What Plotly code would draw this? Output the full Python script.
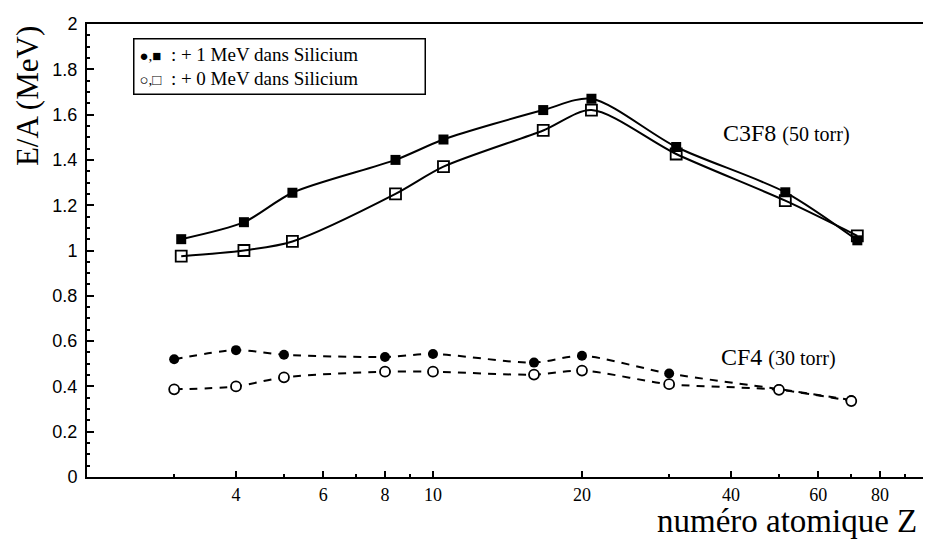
import plotly.graph_objects as go

## data ##
# CF4 (30 torr) - circles
z_cf4 = [3, 4, 5, 8, 10, 16, 20, 30, 50, 70]
cf4_plus1 = [0.52, 0.56, 0.54, 0.53, 0.543, 0.505, 0.535, 0.457, 0.388, 0.34]
cf4_plus0 = [0.387, 0.40, 0.44, 0.465, 0.465, 0.452, 0.47, 0.41, 0.385, 0.335]

# C3F8 (50 torr) - squares
z_c3f8 = [3.1, 4.15, 5.2, 8.4, 10.5, 16.7, 20.9, 31, 51.5, 72]
c3f8_plus1 = [1.05, 1.125, 1.255, 1.40, 1.49, 1.62, 1.67, 1.457, 1.257, 1.045]
c3f8_plus0 = [0.975, 1.0, 1.04, 1.25, 1.37, 1.53, 1.62, 1.426, 1.22, 1.065]

x_tickvals = [4, 6, 8, 10, 20, 40, 60, 80]
x_minor = [3, 5, 7, 9, 30, 50, 70, 90]
y_tickvals = [0, 0.2, 0.4, 0.6, 0.8, 1, 1.2, 1.4, 1.6, 1.8, 2]
y_ticktext = ["0", "0.2", "0.4", "0.6", "0.8", "1", "1.2", "1.4", "1.6", "1.8", "2"]

serif = "Liberation Serif"

fig = go.Figure()

# C3F8 curves
fig.add_trace(go.Scatter(
    x=z_c3f8, y=c3f8_plus1, mode="lines+markers",
    line=dict(color="black", width=2, shape="spline", smoothing=0.8),
    marker=dict(symbol="square", size=10, color="black"),
))
fig.add_trace(go.Scatter(
    x=z_c3f8, y=c3f8_plus0, mode="lines+markers",
    line=dict(color="black", width=2, shape="spline", smoothing=0.8),
    marker=dict(symbol="square-open", size=11, color="black", line=dict(width=1.8)),
))
# CF4 curves
fig.add_trace(go.Scatter(
    x=z_cf4, y=cf4_plus1, mode="lines+markers",
    line=dict(color="black", width=2, dash="8px,7px", shape="spline", smoothing=0.8),
    marker=dict(symbol="circle", size=10, color="black"),
))
fig.add_trace(go.Scatter(
    x=z_cf4, y=cf4_plus0, mode="lines+markers",
    line=dict(color="black", width=2, dash="8px,7px", shape="spline", smoothing=0.8),
    marker=dict(symbol="circle", size=10, color="white", line=dict(width=1.8, color="black")),
))

# page body keeps an 8px margin, so the figure is 8px smaller each way
fig.update_layout(
    width=923,
    height=538,
    margin=dict(l=79, r=6, t=9, b=69),
    paper_bgcolor="white",
    plot_bgcolor="white",
    showlegend=False,
    xaxis=dict(
        type="log",
        range=[0.301, 1.99],
        showgrid=False,
        zeroline=False,
        showline=True,
        linecolor="black",
        linewidth=2,
        mirror=True,
        ticks="inside",
        ticklen=6,
        tickwidth=1.5,
        tickcolor="black",
        tickvals=x_tickvals,
        ticktext=[str(v) for v in x_tickvals],
        tickfont=dict(family=serif, size=18, color="black"),
        minor=dict(tickvals=x_minor, ticks="inside", ticklen=3, tickcolor="black"),
    ),
    yaxis=dict(
        range=[0, 2],
        showgrid=False,
        zeroline=False,
        showline=True,
        linecolor="black",
        linewidth=2,
        mirror=True,
        ticks="inside",
        ticklen=7,
        tickwidth=1.5,
        tickcolor="black",
        tickvals=y_tickvals,
        ticktext=y_ticktext,
        ticklabelstandoff=4,
        ticklabeloverflow="allow",
        tickfont=dict(family="Liberation Sans", size=18, color="black"),
        minor=dict(dtick=0.05, ticks="inside", ticklen=3, tickcolor="black"),
    ),
)

# axis titles
fig.add_annotation(
    text="E/A (MeV)", xref="paper", yref="paper", x=-0.071, y=0.84,
    textangle=-90, showarrow=False, xanchor="center", yanchor="middle",
    font=dict(family=serif, size=31, color="black"),
)
fig.add_annotation(
    text="numéro atomique Z", xref="paper", yref="paper", x=0.995, y=-0.052,
    showarrow=False, xanchor="right", yanchor="top",
    font=dict(family=serif, size=33, color="black"),
)

# curve labels (x in log10 units on the log axis)
fig.add_annotation(
    text="C3F8 <span style='font-size:20px'>(50 torr)</span>",
    xref="x", yref="y", x=1.581, y=1.52, xanchor="left", yanchor="middle",
    showarrow=False, font=dict(family=serif, size=24, color="black"),
)
fig.add_annotation(
    text="CF4 <span style='font-size:20px'>(30 torr)</span>",
    xref="x", yref="y", x=1.577, y=0.53, xanchor="left", yanchor="middle",
    showarrow=False, font=dict(family=serif, size=24, color="black"),
)

# legend box
fig.add_annotation(
    text=("<span style='font-size:15px'>●,■</span>  : + 1 MeV dans Silicium<br>"
          "<span style='font-size:15px'>○,□</span>  : + 0 MeV dans Silicium"),
    xref="paper", yref="paper", x=0.055, y=0.968, xanchor="left", yanchor="top",
    align="left", showarrow=False, width=280, height=44,
    bordercolor="black", borderwidth=1.5, borderpad=5, bgcolor="white",
    font=dict(family=serif, size=19, color="black"),
)

fig.write_html("out.html")
